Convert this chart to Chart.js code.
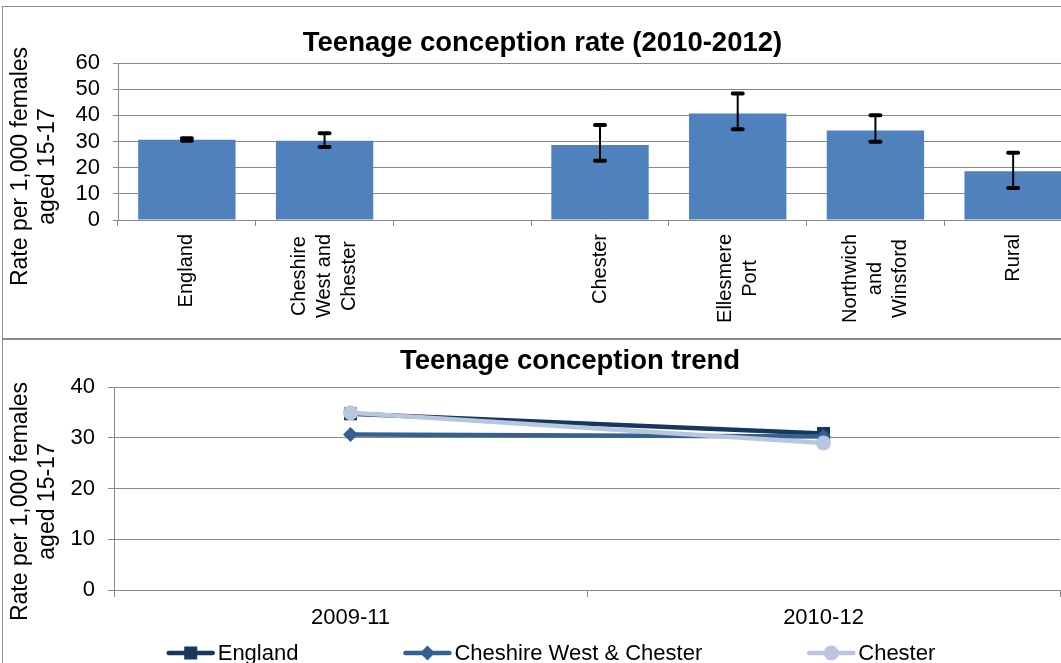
<!DOCTYPE html>
<html>
<head>
<meta charset="utf-8">
<script src="https://cdn.jsdelivr.net/npm/chart.js@4/dist/chart.umd.min.js"></script>
<style>
  html, body { margin: 0; padding: 0; background: #fff; overflow: hidden; width: 1061px; height: 663px; }
  .box { position: absolute; left: 2px; border: 1px solid #8c8c8c; background: #fff; }
  #topBox { top: 6px; width: 1079px; height: 331px; }
  #botBox { top: 339px; width: 1134px; height: 330px; }
  canvas { display: block; }
</style>
</head>
<body>
<div class="box" id="topBox"><canvas id="rateChart" width="1079" height="331"></canvas></div>
<div class="box" id="botBox"><canvas id="trendChart" width="1134" height="330"></canvas></div>
<script>
// --- data ---
const areas = [['England'], ['Cheshire', 'West and', 'Chester'], [''], ['Chester'], ['Ellesmere', 'Port'], ['Northwich', 'and', 'Winsford'], ['Rural']];
const rates = [30.7, 30.3, null, 28.7, 40.7, 34.2, 18.6];
const rateLow = [30.3, 27.9, null, 22.6, 34.7, 29.9, 12.2];
const rateHigh = [31.2, 33.2, null, 36.3, 48.3, 40.0, 25.7];
const rateTicks = [0, 10, 20, 30, 40, 50, 60];

const periods = ['2009-11', '2010-12'];
const englandTrend = [34.8, 30.9];
const cwacTrend = [30.7, 30.3];
const chesterTrend = [35.0, 29.0];
const trendTicks = [0, 10, 20, 30, 40];
const trendNames = ['England', 'Cheshire West & Chester', 'Chester'];

const FONT = '"Liberation Sans", Arial, sans-serif';
const GRID = '#898989';
Chart.defaults.font.family = FONT;
Chart.defaults.color = '#000';

const yTitle = ['Rate per 1,000 females', 'aged 15-17'];

function drawYTitle(ctx, cy) {
    ctx.save();
    ctx.font = '23px ' + FONT;
    ctx.fillStyle = '#000';
    ctx.textAlign = 'center';
    ctx.textBaseline = 'middle';
    ctx.translate(31, cy);
    ctx.rotate(-Math.PI / 2);
    yTitle.forEach(function(line, j) {
        ctx.fillText(line, 0, (j - 0.5) * 27.5);
    });
    ctx.restore();
}

function drawMarker(ctx, style, x, y, color) {
    ctx.fillStyle = color;
    ctx.beginPath();
    if (style == 'rect') {
        ctx.rect(x - 6.5, y - 6.5, 13, 13);
    } else if (style == 'rectRot') {
        ctx.moveTo(x - 7.5, y);
        ctx.lineTo(x, y - 7.5);
        ctx.lineTo(x + 7.5, y);
        ctx.lineTo(x, y + 7.5);
        ctx.closePath();
    } else {
        ctx.arc(x, y, 7.5, 0, Math.PI * 2);
    }
    ctx.fill();
}

// error bars + rotated, centred category labels for the bar chart
const barExtras = {
    id: 'barExtras',
    afterDatasetsDraw(chart) {
        const ctx = chart.ctx;
        const x = chart.scales.x, y = chart.scales.y;
        ctx.save();
        ctx.strokeStyle = '#000';
        ctx.lineCap = 'round';
        for (let i = 0; i < rates.length; i++) {
            if (rateLow[i] == null) continue;
            const px = x.getPixelForValue(i);
            const yl = y.getPixelForValue(rateLow[i]);
            const yh = y.getPixelForValue(rateHigh[i]);
            ctx.lineWidth = 2;
            ctx.beginPath();
            ctx.moveTo(px, yl);
            ctx.lineTo(px, yh);
            ctx.stroke();
            ctx.lineWidth = 4;
            ctx.beginPath();
            ctx.moveTo(px - 5, yl); ctx.lineTo(px + 5, yl);
            ctx.moveTo(px - 5, yh); ctx.lineTo(px + 5, yh);
            ctx.stroke();
        }
        ctx.restore();
    },
    afterDraw(chart) {
        const ctx = chart.ctx;
        const x = chart.scales.x;
        ctx.save();
        ctx.font = '20px ' + FONT;
        ctx.fillStyle = '#000';
        ctx.textAlign = 'center';
        ctx.textBaseline = 'middle';
        areas.forEach(function(lines, i) {
            const widths = lines.map(function(l) { return ctx.measureText(l).width; });
            const m = Math.max.apply(null, widths);
            ctx.save();
            ctx.translate(x.getPixelForValue(i), x.top + 14 + m / 2);
            ctx.rotate(-Math.PI / 2);
            lines.forEach(function(l, j) {
                ctx.fillText(l, 0, (j - (lines.length - 1) / 2) * 25);
            });
            ctx.restore();
        });
        ctx.restore();
        drawYTitle(ctx, 159.5);
    }
};

new Chart(document.getElementById('rateChart'), {
    type: 'bar',
    data: {
        labels: areas,
        datasets: [{
            data: rates,
            backgroundColor: '#4f81bd',
            barPercentage: 0.707,
            categoryPercentage: 1.0
        }]
    },
    options: {
        responsive: false,
        animation: false,
        layout: { padding: 0 },
        plugins: {
            legend: { display: false },
            tooltip: { enabled: false },
            title: {
                display: true,
                text: 'Teenage conception rate (2010-2012)',
                font: { size: 27.5, weight: 'bold' },
                color: '#000',
                padding: { top: 20, bottom: 3 }
            }
        },
        scales: {
            x: {
                grid: { drawOnChartArea: false, offset: true, tickLength: 6, color: GRID },
                border: { color: GRID },
                ticks: { display: false },
                afterFit(scale) { scale.height = 118; }
            },
            y: {
                min: 0,
                max: 60,
                afterBuildTicks(scale) { scale.ticks = rateTicks.map(function(v) { return { value: v }; }); },
                grid: { color: GRID, tickLength: 5 },
                border: { color: GRID },
                ticks: { font: { size: 22 }, padding: 13, autoSkip: false },
                afterFit(scale) { scale.width = 115; }
            }
        }
    },
    plugins: [barExtras]
});

// trend chart
const lineStyles = [
    { color: '#17375e', point: 'rect' },
    { color: '#376092', point: 'rectRot' },
    { color: '#b9c7de', point: 'circle' }
];
const trendSeries = [englandTrend, cwacTrend, chesterTrend];

const trendExtras = {
    id: 'trendExtras',
    afterDraw(chart) {
        const ctx = chart.ctx;
        drawYTitle(ctx, 161.5);
        // legend: line + marker, then text
        ctx.save();
        ctx.font = '22px ' + FONT;
        ctx.textBaseline = 'middle';
        ctx.textAlign = 'left';
        const sym = 48, gap = 3, spacing = 105;
        const widths = trendNames.map(function(n) { return sym + gap + ctx.measureText(n).width; });
        const total = widths.reduce(function(a, b) { return a + b; }, 0) + spacing * (widths.length - 1);
        let lx = 548 - total / 2;
        const ly = 313;
        trendNames.forEach(function(name, i) {
            const st = lineStyles[i];
            ctx.strokeStyle = st.color;
            ctx.lineWidth = 4.5;
            ctx.lineCap = 'round';
            ctx.beginPath();
            ctx.moveTo(lx + 2, ly);
            ctx.lineTo(lx + sym - 2, ly);
            ctx.stroke();
            drawMarker(ctx, st.point, lx + sym / 2, ly, st.color);
            ctx.fillStyle = '#000';
            ctx.fillText(name, lx + sym + gap, ly + 1);
            lx += widths[i] + spacing;
        });
        ctx.restore();
    }
};

new Chart(document.getElementById('trendChart'), {
    type: 'line',
    data: {
        labels: periods,
        datasets: trendSeries.map(function(values, i) {
            return {
                label: trendNames[i],
                data: values,
                borderColor: lineStyles[i].color,
                backgroundColor: lineStyles[i].color,
                pointBackgroundColor: lineStyles[i].color,
                pointBorderColor: lineStyles[i].color,
                pointStyle: lineStyles[i].point,
                pointRadius: lineStyles[i].point == 'rect' ? 9.2 : 7.5,
                pointBorderWidth: 0,
                borderWidth: 4.5,
                tension: 0,
                order: 2 - i
            };
        })
    },
    options: {
        responsive: false,
        animation: false,
        layout: { padding: 0 },
        plugins: {
            legend: { display: false },
            tooltip: { enabled: false },
            title: {
                display: true,
                text: 'Teenage conception trend',
                font: { size: 27.5, weight: 'bold' },
                color: '#000',
                padding: { top: 5, bottom: 9.3 }
            }
        },
        scales: {
            x: {
                offset: true,
                grid: { drawOnChartArea: false, offset: true, tickLength: 7, color: GRID },
                border: { color: GRID },
                ticks: { font: { size: 22 }, padding: 8, maxRotation: 0 },
                afterFit(scale) { scale.height = 80; }
            },
            y: {
                min: 0,
                max: 40,
                afterBuildTicks(scale) { scale.ticks = trendTicks.map(function(v) { return { value: v }; }); },
                grid: { color: GRID, tickLength: 6 },
                border: { color: GRID },
                ticks: { font: { size: 22 }, padding: 13, autoSkip: false },
                afterFit(scale) { scale.width = 111; }
            },
            pad: {
                position: 'right',
                grid: { display: false },
                border: { display: false },
                ticks: { display: false },
                afterFit(scale) { scale.width = 77; }
            }
        }
    },
    plugins: [trendExtras]
});
</script>
</body>
</html>
